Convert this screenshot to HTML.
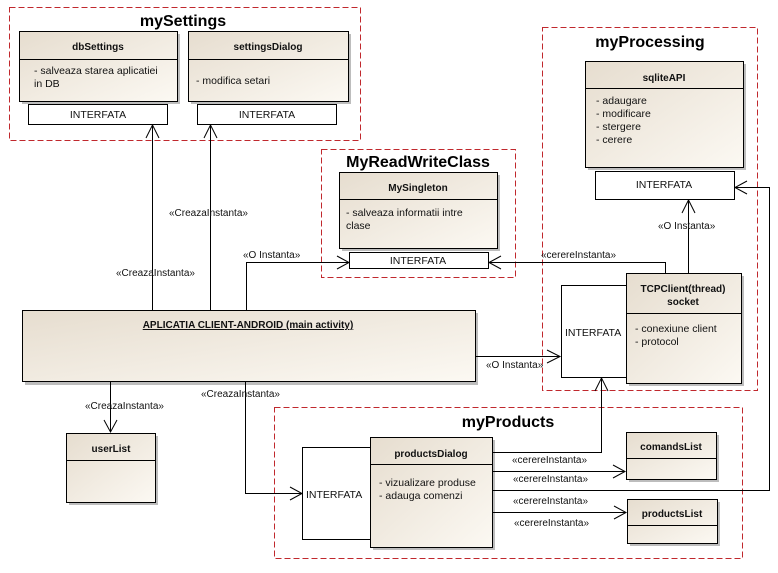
<!DOCTYPE html>
<html><head><meta charset="utf-8"><style>
body{margin:0;background:#fff}
svg{display:block;font-family:"Liberation Sans",sans-serif}
.t{font-size:10.5px;fill:#111}
.l{font-size:10px;fill:#111}
.b{font-size:10px;font-weight:bold;fill:#111}
.h{font-size:16px;font-weight:bold;fill:#000}
</style></head><body>
<svg width="778" height="573" viewBox="0 0 778 573" xmlns="http://www.w3.org/2000/svg">
<defs>
<linearGradient id="g" x1="0" y1="0" x2="1" y2="1"><stop offset="0" stop-color="#e6ddcf"/><stop offset="1" stop-color="#fcf9f3"/></linearGradient>
</defs>
<g fill="none" stroke="#c0282d" stroke-dasharray="6,3" stroke-width="1">
<rect x="9.5" y="7.5" width="351" height="133"/>
<rect x="321.5" y="149.5" width="194" height="128"/>
<rect x="542.5" y="27.5" width="215" height="363"/>
<rect x="274.5" y="407.5" width="468" height="151"/>
</g>
<text class="h" x="183" y="26" text-anchor="middle">mySettings</text>
<text class="h" x="418" y="167" text-anchor="middle">MyReadWriteClass</text>
<text class="h" x="650" y="47" text-anchor="middle">myProcessing</text>
<text class="h" x="508" y="427" text-anchor="middle">myProducts</text>

<g stroke="#000" stroke-width="1">
<g fill="#bdbdbd" stroke="none">
<rect x="22" y="34" width="158" height="70"/><rect x="191" y="34" width="160" height="70"/>
<rect x="342" y="175" width="158" height="76"/><rect x="588" y="64" width="158" height="106"/>
<rect x="629" y="276" width="115" height="110"/><rect x="25" y="313" width="453" height="72"/>
<rect x="69" y="436" width="89" height="69"/><rect x="373" y="440" width="122" height="110"/>
<rect x="629" y="435" width="90" height="47"/><rect x="630" y="502" width="90" height="44"/>
</g>
<g fill="url(#g)">
<rect x="19.5" y="31.5" width="158" height="70"/><rect x="188.5" y="31.5" width="160" height="70"/>
<rect x="339.5" y="172.5" width="158" height="76"/><rect x="585.5" y="61.5" width="158" height="106"/>
<rect x="22.5" y="310.5" width="453" height="71"/>
<rect x="66.5" y="433.5" width="89" height="69"/>
<rect x="626.5" y="432.5" width="90" height="47"/><rect x="627.5" y="499.5" width="90" height="44"/>
</g>
<g fill="#fff">
<rect x="28.5" y="104.5" width="139" height="20"/><rect x="197.5" y="104.5" width="139" height="20"/>
<rect x="349.5" y="252.5" width="139" height="16"/><rect x="595.5" y="171.5" width="139" height="28"/>
<rect x="561.5" y="285.5" width="66" height="92"/><rect x="302.5" y="447.5" width="70" height="92"/>
</g>
<g fill="url(#g)">
<rect x="626.5" y="273.5" width="115" height="110"/><rect x="370.5" y="437.5" width="122" height="110"/>
</g>
<g fill="none">
<path d="M19.5 59.5H177.5M188.5 59.5H348.5M339.5 199.5H497.5M585.5 88.5H743.5M626.5 313.5H741.5M370.5 464.5H492.5M66.5 460.5H155.5M626.5 458.5H716.5M627.5 525.5H717.5"/>
<path d="M152.5 310V125M210.5 310V125M246.5 310V262.5H349M688.5 273V200M665.5 273V262.5H489M476 356.5H560M110.5 382V432M245.5 382V493.5H302M492 452.5H601.5V378M492 471.5H625M492 512.5H626M492 490.5H769.5V187.5H735"/>
<path d="M146 138L152.5 125L159 138M204 138L210.5 125L217 138M337 256L349 262.5L337 269M682 213L688.5 200L695 213M501 256L489 262.5L501 269M547 350L560 356.5L547 363M104 420L110.5 432L117 420M290 487L302 493.5L290 500M595 391L601.5 378L608 391M613 465L625 471.5L613 478M614 506L626 512.5L614 519M747 181L735 187.5L747 194"/>
</g>
</g>
<text class="b" x="98" y="50" text-anchor="middle">dbSettings</text>
<text class="t" x="34" y="74">- salveaza starea aplicatiei</text>
<text class="t" x="34" y="87">in DB</text>
<text class="t" x="98" y="118" text-anchor="middle">INTERFATA</text>
<text class="b" x="268" y="50" text-anchor="middle">settingsDialog</text>
<text class="t" x="196" y="84">- modifica setari</text>
<text class="t" x="267" y="118" text-anchor="middle">INTERFATA</text>
<text class="b" x="418" y="191" text-anchor="middle">MySingleton</text>
<text class="t" x="346" y="216">- salveaza informatii intre</text>
<text class="t" x="346" y="229">clase</text>
<text class="t" x="418" y="264" text-anchor="middle">INTERFATA</text>
<text class="b" x="664" y="81" text-anchor="middle">sqliteAPI</text>
<text class="t" x="596" y="104">- adaugare</text>
<text class="t" x="596" y="117">- modificare</text>
<text class="t" x="596" y="130">- stergere</text>
<text class="t" x="596" y="143">- cerere</text>
<text class="t" x="664" y="188" text-anchor="middle">INTERFATA</text>
<text class="b" x="683" y="292" text-anchor="middle">TCPClient(thread)</text>
<text class="b" x="683" y="305" text-anchor="middle">socket</text>
<text class="t" x="635" y="332">- conexiune client</text>
<text class="t" x="635" y="345">- protocol</text>
<text class="t" x="565" y="336">INTERFATA</text>
<text class="b" x="248" y="328" text-anchor="middle" text-decoration="underline">APLICATIA CLIENT-ANDROID (main activity)</text>
<text class="b" x="111" y="452" text-anchor="middle">userList</text>
<text class="b" x="431" y="457" text-anchor="middle">productsDialog</text>
<text class="t" x="379" y="486">- vizualizare produse</text>
<text class="t" x="379" y="499">- adauga comenzi</text>
<text class="t" x="306" y="498">INTERFATA</text>
<text class="b" x="671" y="450" text-anchor="middle">comandsList</text>
<text class="b" x="672" y="517" text-anchor="middle">productsList</text>
<g class="l">
<text x="116" y="276">«CreazaInstanta»</text>
<text x="169" y="216">«CreazaInstanta»</text>
<text x="243" y="258">«O Instanta»</text>
<text x="541" y="258">«cerereInstanta»</text>
<text x="658" y="229">«O Instanta»</text>
<text x="486" y="368">«O Instanta»</text>
<text x="85" y="409">«CreazaInstanta»</text>
<text x="201" y="397">«CreazaInstanta»</text>
<text x="512" y="463">«cerereInstanta»</text>
<text x="513" y="482">«cerereInstanta»</text>
<text x="513" y="504">«cerereInstanta»</text>
<text x="514" y="526">«cerereInstanta»</text>
</g>
</svg>
</body></html>
